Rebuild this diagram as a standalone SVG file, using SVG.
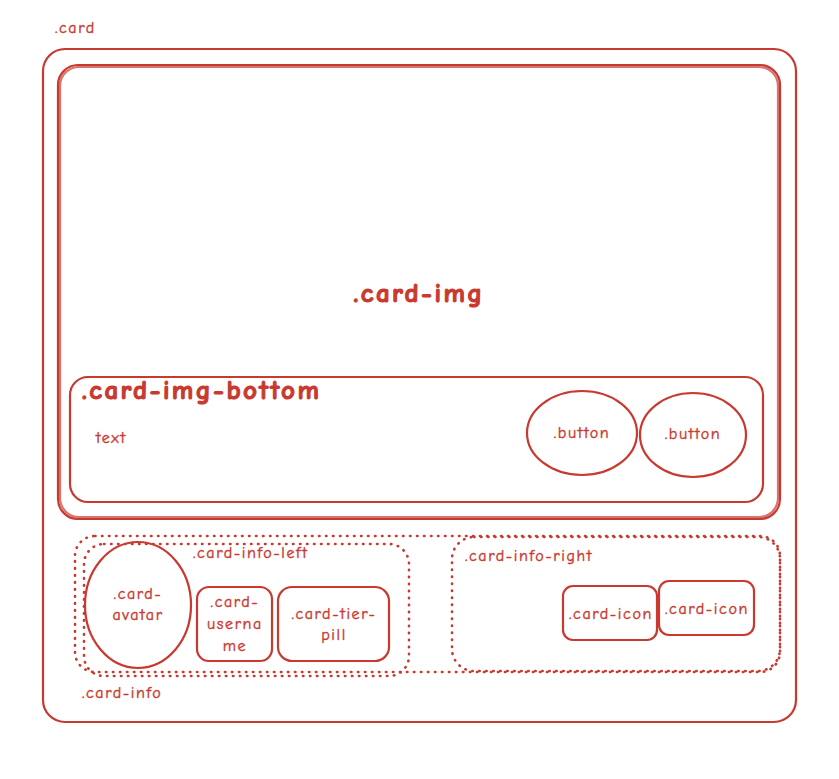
<svg xmlns="http://www.w3.org/2000/svg" width="839" height="779" viewBox="0 0 839 779">
<style>
.s{fill:none;stroke:#c9392f;stroke-width:2.2;stroke-linejoin:round}
.d{fill:none;stroke:#c9392f;stroke-width:2.6;stroke-dasharray:0.5 6.5;stroke-linecap:round}
text{fill:#c9392f;font-family:"Comic Neue","Liberation Sans",sans-serif;text-anchor:middle}
.sm{font-size:16px;letter-spacing:1.6px;stroke:#c9392f;stroke-width:0.4px}
.lg{font-size:27px;font-weight:bold;letter-spacing:2.4px;stroke:#c9392f;stroke-width:1.1px}
.st{text-anchor:start}
</style>
<rect width="839" height="779" fill="#ffffff"/>
<g id="card">
<rect class="s" x="43" y="49" width="753" height="673" rx="22"/>
<text class="sm st" x="55" y="33">.card</text>
</g>
<g id="card-img">
<rect class="s" x="58" y="65" width="722" height="454" rx="20"/>
<rect class="s" x="60" y="67" width="718" height="450" rx="19" stroke-width="1" opacity="0.7"/>
<text class="lg" x="419" y="302">.card-img</text>
</g>
<g id="card-img-bottom">
<rect class="s" x="70" y="377" width="693" height="125" rx="18"/>
<text class="lg st" x="82" y="399">.card-img-bottom</text>
<text class="sm st" x="96" y="443">text</text>
</g>
<g id="button1">
<ellipse class="s" cx="582" cy="433" rx="55" ry="42"/>
<text class="sm" x="582" y="438">.button</text>
</g>
<g id="button2">
<ellipse class="s" cx="693" cy="435" rx="53" ry="42"/>
<text class="sm" x="693" y="439">.button</text>
</g>
<g id="card-info">
<rect class="d" x="75" y="536" width="705" height="136" rx="20"/>
<text class="sm st" x="82" y="698">.card-info</text>
</g>
<g id="card-info-left">
<rect class="d" x="84" y="544" width="325" height="132" rx="20"/>
<text class="sm st" x="193" y="558">.card-info-left</text>
</g>
<g id="card-info-right">
<rect class="d" x="452" y="537" width="328" height="134" rx="22"/>
<text class="sm st" x="465" y="561">.card-info-right</text>
</g>
<g id="card-avatar">
<ellipse class="s" cx="138" cy="605" rx="53" ry="63" stroke-width="3"/>
<text class="sm" x="138" y="599">.card-</text>
<text class="sm" x="138" y="620">avatar</text>
</g>
<g id="card-username">
<rect class="s" x="197" y="587" width="75" height="74" rx="12"/>
<text class="sm" x="235" y="607">.card-</text>
<text class="sm" x="235" y="629">userna</text>
<text class="sm" x="235" y="651">me</text>
</g>
<g id="card-tier-pill">
<rect class="s" x="278" y="587" width="111" height="74" rx="14"/>
<text class="sm" x="334" y="619">.card-tier-</text>
<text class="sm" x="334" y="640">pill</text>
</g>
<g id="card-icon1">
<rect class="s" x="563" y="586" width="94" height="54" rx="10"/>
<text class="sm" x="611" y="619">.card-icon</text>
</g>
<g id="card-icon2">
<rect class="s" x="659" y="581" width="95" height="54" rx="10"/>
<text class="sm" x="707" y="614">.card-icon</text>
</g>
<g id="connectors"></g>
</svg>
